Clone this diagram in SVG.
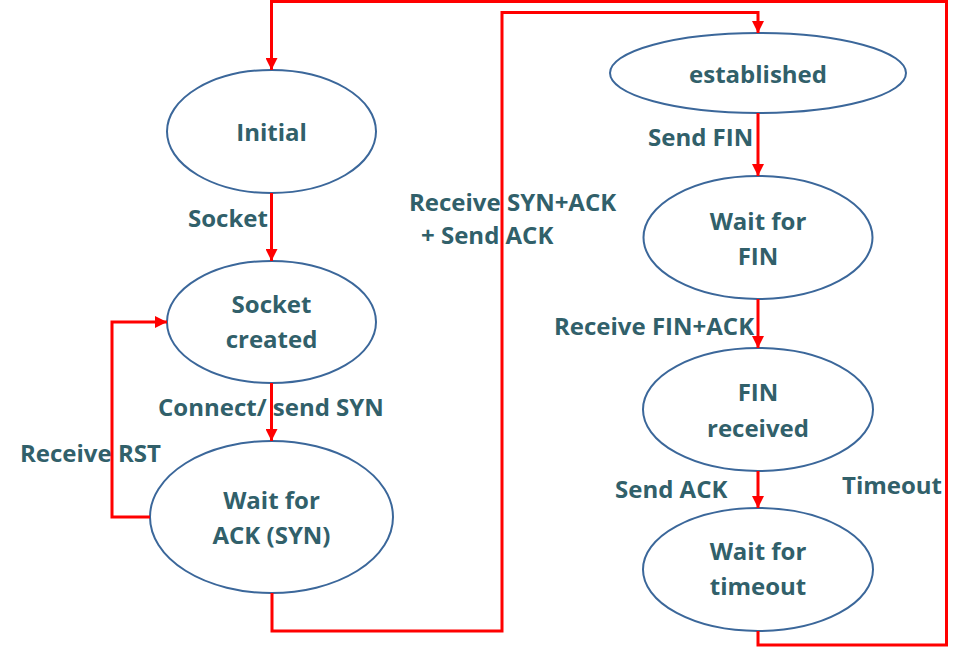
<svg xmlns="http://www.w3.org/2000/svg" width="960" height="647" viewBox="0 0 960 647">
<style>
.node{fill:#ffffff;stroke:#3b679a;stroke-width:2}
.t{font-family:"Open Sans",Lato,sans-serif;font-weight:bold;font-size:24px;fill:#31606a;text-anchor:middle}
.l{font-family:"Open Sans",Lato,sans-serif;font-weight:bold;font-size:24px;fill:#31606a}
.c{fill:none;stroke:#ff0000;stroke-width:3}
</style>
<defs>
<marker id="ah" markerUnits="userSpaceOnUse" markerWidth="12" markerHeight="12" refX="12" refY="6" orient="auto">
<path d="M0,0 L12,6 L0,12 z" fill="#ff0000"/>
</marker>
</defs>
<rect width="960" height="647" fill="#ffffff"/>
<g id="labels">
<text class="l" x="188" y="227">Socket</text>
<text class="l" x="158" y="416">Connect/ send SYN</text>
<text class="l" x="20" y="462">Receive RST</text>
<text class="l" x="409" y="211">Receive SYN+ACK</text>
<text class="l" x="421" y="244">+ Send ACK</text>
<text class="l" x="648" y="146">Send FIN</text>
<text class="l" x="554" y="335">Receive FIN+ACK</text>
<text class="l" x="615" y="498">Send ACK</text>
<text class="l" x="842" y="494">Timeout</text>
</g>
<g id="initial">
<ellipse class="node" cx="271.5" cy="131.5" rx="104.5" ry="61.5"/>
<text class="t" x="271.5" y="141">Initial</text>
</g>
<g id="socket-created">
<ellipse class="node" cx="271.5" cy="322" rx="104.5" ry="61"/>
<text class="t" x="271.5" y="313">Socket</text>
<text class="t" x="271.5" y="348">created</text>
</g>
<g id="wait-ack">
<ellipse class="node" cx="271.5" cy="517" rx="121.5" ry="76"/>
<text class="t" x="271.5" y="509">Wait for</text>
<text class="t" x="271.5" y="544">ACK (SYN)</text>
</g>
<g id="established">
<ellipse class="node" cx="758" cy="73" rx="148" ry="40"/>
<text class="t" x="758" y="83">established</text>
</g>
<g id="wait-fin">
<ellipse class="node" cx="758" cy="237.5" rx="114.5" ry="61.5"/>
<text class="t" x="758" y="230">Wait for</text>
<text class="t" x="758" y="265">FIN</text>
</g>
<g id="fin-received">
<ellipse class="node" cx="758" cy="409.5" rx="115" ry="61.5"/>
<text class="t" x="758" y="401">FIN</text>
<text class="t" x="758" y="437">received</text>
</g>
<g id="wait-timeout">
<ellipse class="node" cx="758" cy="569.5" rx="115" ry="61.5"/>
<text class="t" x="758" y="560">Wait for</text>
<text class="t" x="758" y="595">timeout</text>
</g>
<g id="connectors">
<path class="c" d="M758,631 V645 H946.5 V1.5 H271.5 V70" marker-end="url(#ah)"/>
<path class="c" d="M271.5,193 V261" marker-end="url(#ah)"/>
<path class="c" d="M271.5,383 V441" marker-end="url(#ah)"/>
<path class="c" d="M150,517 H112 V322 H167" marker-end="url(#ah)"/>
<path class="c" d="M272,593 V631 H502 V12.5 H758 V33" marker-end="url(#ah)"/>
<path class="c" d="M758,113 V176" marker-end="url(#ah)"/>
<path class="c" d="M758,299 V348" marker-end="url(#ah)"/>
<path class="c" d="M758,471 V508" marker-end="url(#ah)"/>
</g>
</svg>
